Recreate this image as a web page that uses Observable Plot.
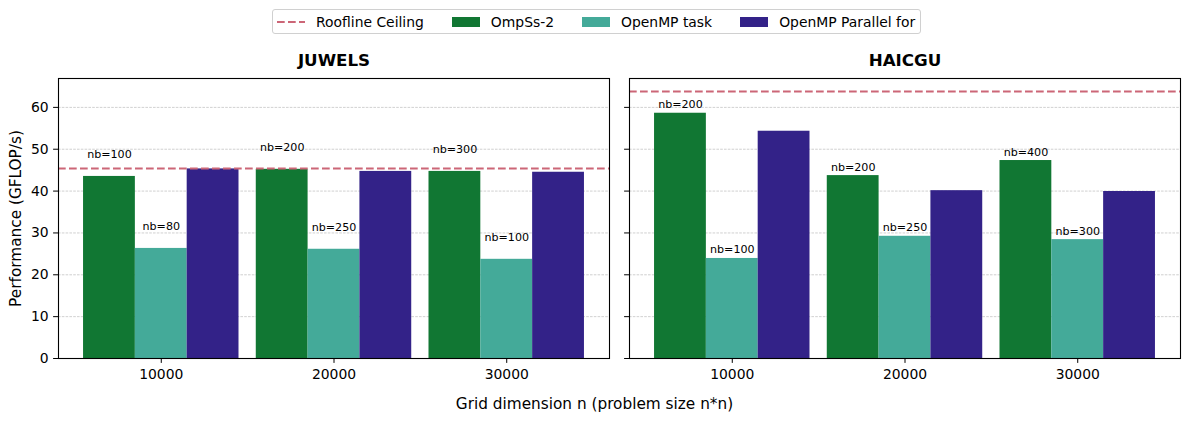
<!DOCTYPE html>
<html>
<head>
<meta charset="utf-8">
<script src="https://cdn.jsdelivr.net/npm/d3@7"></script>
<script src="https://cdn.jsdelivr.net/npm/@observablehq/plot@0.6"></script>
<style>
  html, body { margin: 0; padding: 0; background: #fff; }
  #wrap { position: relative; width: 1189px; height: 422px; overflow: hidden; font-family: "DejaVu Sans", sans-serif; color: #000; }
  #legend { position: absolute; top: 9px; left: 272px; height: 23px; border: 1px solid #d0d0d0; border-radius: 3px; background: #fff;
            display: flex; align-items: center; padding: 0 5px 0 4px; font-size: 13.9px; white-space: nowrap; }
  .item { display: flex; align-items: center; margin-right: 28px; }
  .item:last-child { margin-right: 0; }
  .patch { width: 28px; height: 10px; margin-right: 11px; }
  .lsample { width: 28px; height: 10px; margin-right: 11px; }
  #xlabel { position: absolute; top: 395px; left: 0; width: 1189px; text-align: center; font-size: 15.3px; }
</style>
</head>
<body>
<div id="wrap">
  <div id="legend"></div>
  <div id="xlabel">Grid dimension n (problem size n*n)</div>
</div>
<script>
// ---- data ----
const sizes = ["10000", "20000", "30000"];
const series = ["OmpSs-2", "OpenMP task", "OpenMP Parallel for"];
const colors = ["#117733", "#44AA99", "#332288"];
const roofColor = "#CC6677";
const machines = ["JUWELS", "HAICGU"];
const yLabel = "Performance (GFLOP/s)";

const juwelsOmpss = [43.5, 45.2, 44.7];
const juwelsTask  = [26.3, 26.1, 23.7];
const juwelsPfor  = [45.3, 44.7, 44.5];
const juwelsOmpssNb = ["nb=100", "nb=200", "nb=300"];
const juwelsTaskNb  = ["nb=80", "nb=250", "nb=100"];
const juwelsRoof = 45.4;

const haicguOmpss = [58.6, 43.7, 47.3];
const haicguTask  = [23.9, 29.2, 28.4];
const haicguPfor  = [54.3, 40.1, 39.9];
const haicguOmpssNb = ["nb=200", "nb=200", "nb=400"];
const haicguTaskNb  = ["nb=100", "nb=250", "nb=300"];
const haicguRoof = 63.8;

const yTicks = [0, 10, 20, 30, 40, 50, 60];
const yMax = 66.9;

// ---- build rows ----
const barWidth = 0.3;
const offsets = [-barWidth, 0, barWidth];
function rowsFor(values) {
  const rows = [];
  values.forEach((vals, j) => vals.forEach((v, i) => rows.push({i, j, series: series[j], value: v})));
  return rows;
}
function labelRowsFor(values, labels) {
  const rows = [];
  labels.forEach((labs, j) => labs.forEach((t, i) => rows.push({i, j, value: values[j][i], nb: t})));
  return rows;
}

function panel({title, values, labels, roof, left, width, marginLeft, marginRight, showYLabels, labelDy}) {
  const rows = rowsFor(values);
  const labelRows = labelRowsFor(values, labels);
  const marks = [
    Plot.gridY({ticks: yTicks.slice(1), stroke: "#b0b0b0", strokeOpacity: 0.85, strokeWidth: 0.7, strokeDasharray: "2.6,1.2"}),
    Plot.rect(rows, {x1: d => d.i + offsets[d.j] - barWidth / 2, x2: d => d.i + offsets[d.j] + barWidth / 2, y1: 0, y2: "value", fill: "series"}),
    Plot.ruleY([roof], {stroke: roofColor, strokeWidth: 2, strokeDasharray: "7.7,3.3"}),
    Plot.text(labelRows, {x: d => d.i + offsets[d.j], y: "value", text: "nb", dy: labelDy, lineAnchor: "bottom", fontSize: 11.1, fill: "#000"}),
    Plot.text([title], {frameAnchor: "top", dy: -13, lineAnchor: "bottom", fontSize: 16.7, fontWeight: "bold", fill: "#000"}),
    Plot.frame({stroke: "#000", strokeWidth: 1.1}),
    Plot.axisX({ticks: [0, 1, 2], tickFormat: i => sizes[i], tickSize: 4.9, tickPadding: 6, label: null}),
    showYLabels
      ? Plot.axisY({ticks: yTicks, tickSize: 4.9, tickPadding: 4.9, label: null})
      : Plot.axisY({ticks: yTicks, tickSize: 4.9, tickFormat: () => "", label: null})
  ];
  if (showYLabels) {
    marks.push(Plot.text([yLabel], {frameAnchor: "left", dx: -42, rotate: -90, textAnchor: "middle", lineAnchor: "middle", fontSize: 15.3, fill: "#000"}));
  }
  const svg = Plot.plot({
    width, height: 422,
    marginLeft, marginRight, marginTop: 78, marginBottom: 64,
    style: {fontFamily: "DejaVu Sans, sans-serif", fontSize: "13.9px", background: "transparent", color: "#000", overflow: "visible"},
    x: {type: "linear", domain: [-0.595, 2.595]},
    y: {type: "linear", domain: [0, yMax]},
    color: {domain: series, range: colors},
    marks
  });
  svg.style.position = "absolute";
  svg.style.left = left + "px";
  svg.style.top = "0px";
  document.getElementById("wrap").appendChild(svg);
}

panel({title: machines[0], values: [juwelsOmpss, juwelsTask, juwelsPfor], labels: [juwelsOmpssNb, juwelsTaskNb],
       roof: juwelsRoof, left: 0, width: 619, marginLeft: 58, marginRight: 10, showYLabels: true, labelDy: -18});
panel({title: machines[1], values: [haicguOmpss, haicguTask, haicguPfor], labels: [haicguOmpssNb, haicguTaskNb],
       roof: haicguRoof, left: 619, width: 570, marginLeft: 10, marginRight: 9, showYLabels: false, labelDy: -5});

// ---- legend ----
const legend = document.getElementById("legend");
const legendItems = [{label: "Roofline Ceiling", type: "line", color: roofColor}]
  .concat(series.map((s, j) => ({label: s, type: "patch", color: colors[j]})));
legendItems.forEach(it => {
  const item = document.createElement("div");
  item.className = "item";
  if (it.type === "line") {
    item.innerHTML = `<svg class="lsample" width="28" height="10"><line x1="0" x2="28" y1="5" y2="5" stroke="${it.color}" stroke-width="2" stroke-dasharray="7.7,3.3"/></svg>`;
  } else {
    const p = document.createElement("div");
    p.className = "patch";
    p.style.background = it.color;
    item.appendChild(p);
  }
  const t = document.createElement("span");
  t.textContent = it.label;
  item.appendChild(t);
  legend.appendChild(item);
});
</script>
</body>
</html>
